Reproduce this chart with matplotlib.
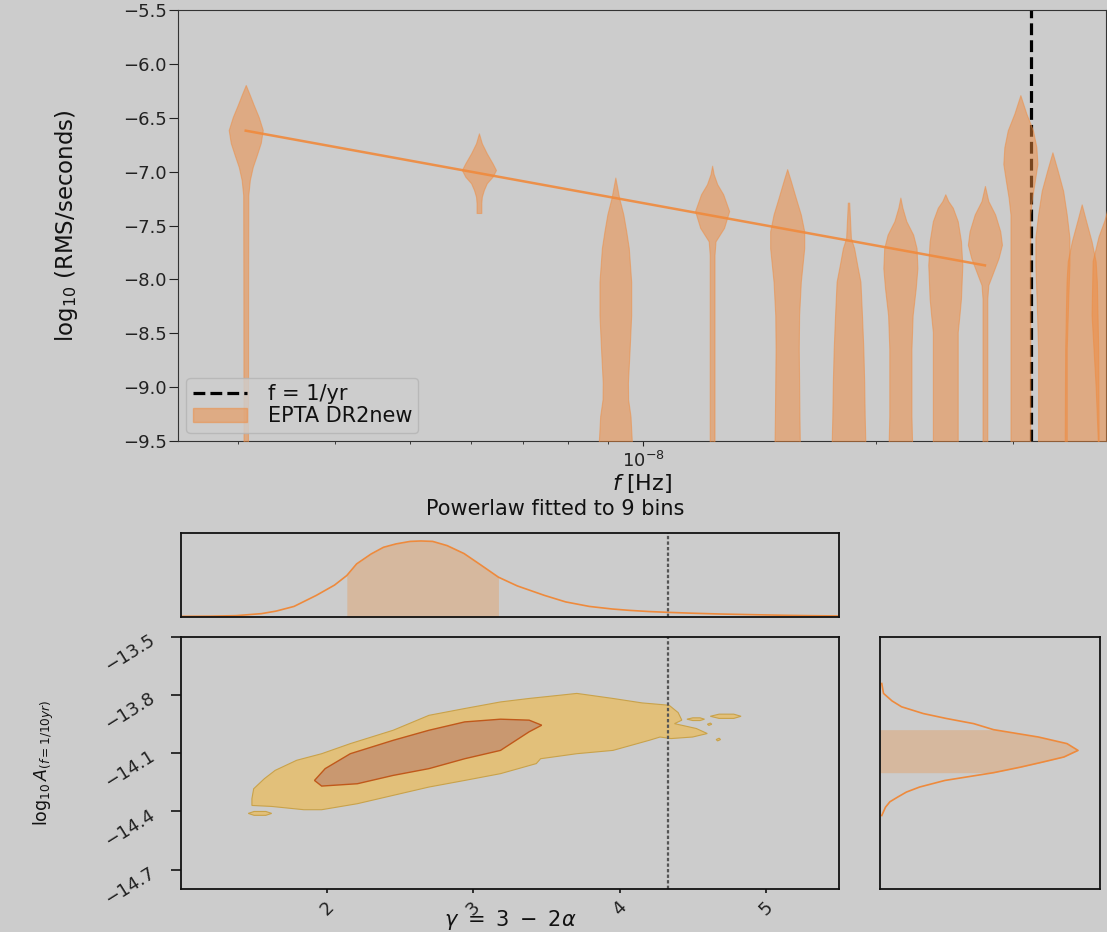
import numpy as np
import matplotlib

matplotlib.use("Agg")
import matplotlib.pyplot as plt
from matplotlib.lines import Line2D
from matplotlib.patches import Patch
from matplotlib.ticker import FixedLocator, NullFormatter, NullLocator

# --- free-spectrum violins (log10 RMS residual per frequency bin) ---
freqs = [3.07e-9, 6.14e-9, 9.21e-9, 1.228e-8, 1.535e-8, 1.842e-8, 2.149e-8,
         2.456e-8, 2.763e-8, 3.07e-8, 3.377e-8, 3.684e-8, 3.991e-8]
violin_levels = [
    [-6.196, -6.289, -6.382, -6.493, -6.614, -6.734, -6.846, -6.957, -7.078, -7.217, -8.0, -9.0, -9.6],
    [-6.645, -6.737, -6.830, -6.923, -6.985, -7.047, -7.108, -7.170, -7.233, -7.291, -7.384],
    [-7.055, -7.241, -7.398, -7.554, -7.710, -8.022, -8.333, -8.645, -8.957, -9.113, -9.269, -9.6],
    [-6.945, -7.023, -7.117, -7.210, -7.366, -7.522, -7.647, -7.772, -9.6],
    [-6.977, -7.085, -7.241, -7.398, -7.554, -7.710, -7.866, -8.022, -8.333, -8.645, -8.957, -9.269, -9.6],
    [-7.288, -7.616, -7.710, -7.866, -8.022, -8.333, -8.645, -8.957, -9.269, -9.6],
    [-7.241, -7.335, -7.460, -7.585, -7.710, -7.896, -8.084, -8.333, -8.645, -9.269, -9.6],
    [-7.210, -7.273, -7.335, -7.460, -7.647, -7.866, -8.178, -8.333, -8.489, -9.6],
    [-7.133, -7.273, -7.398, -7.554, -7.679, -7.803, -7.928, -8.052, -8.178, -9.6],
    [-6.290, -6.461, -6.617, -6.773, -6.929, -7.085, -7.241, -7.398, -9.6],
    [-6.821, -6.992, -7.179, -7.398, -7.616, -7.866, -8.178, -8.645, -9.6],
    [-7.304, -7.460, -7.647, -7.834, -8.022, -8.645, -9.6],
    [-7.300, -7.450, -7.600, -7.830, -8.330, -9.000, -9.6],
]
violin_density = [
    [0, .24, .47, .76, 1.0, .88, .65, .41, .24, .15, .14, .135, .13],
    [0, .17, .46, .80, 1.0, .80, .46, .29, .17, .14, .14],
    [0, .22, .47, .64, .79, .93, .93, .84, .74, .75, .89, 1.0],
    [0, .09, .30, .65, 1.0, .70, .20, .14, .14],
    [0, .21, .50, .80, 1.0, 1.0, .90, .80, .70, .68, .70, .72, .75],
    [.04, .14, .33, .51, .70, .79, .87, .92, .95, 1.0],
    [0, .12, .35, .75, .95, 1.0, .90, .72, .65, .65, .70],
    [0, .17, .44, .73, .92, 1.0, .92, .83, .73, .73],
    [0, .20, .60, .90, 1.0, .80, .50, .20, .14, .14],
    [0, .35, .74, .94, 1.0, .85, .69, .58, .58],
    [0, .31, .63, .84, 1.0, 1.0, .93, .84, .84],
    [0, .26, .58, .82, .89, .97, 1.0],
    [0, .24, .59, .94, 1.0, .76, .61],
]
fit_freqs = [3.07e-9, 2.763e-8]
fit_log10_rms = [-6.62, -7.87]
f_yr = 3.17e-8

# --- powerlaw posterior (gamma, log10 A) ---
gamma_grid = [1.0, 1.2, 1.376, 1.55, 1.65, 1.773, 1.925, 2.05, 2.134, 2.201, 2.30, 2.385, 2.47,
              2.568, 2.64, 2.721, 2.82, 2.936, 3.05, 3.171, 3.30, 3.486, 3.63, 3.792, 3.95,
              4.067, 4.20, 4.336, 4.50, 4.678, 4.90, 5.137, 5.30, 5.504]
gamma_pdf = [0.008, 0.010, 0.016, 0.040, 0.070, 0.126, 0.257, 0.380, 0.494, 0.632, 0.750,
             0.830, 0.870, 0.900, 0.905, 0.900, 0.850, 0.755, 0.620, 0.474, 0.370, 0.257,
             0.180, 0.126, 0.095, 0.079, 0.065, 0.055, 0.045, 0.036, 0.028, 0.020, 0.016, 0.012]
gamma_1sigma = (2.134, 3.171)
log10A_grid = [-13.740, -13.791, -13.830, -13.860, -13.895, -13.920, -13.947, -13.978, -14.016,
               -14.050, -14.085, -14.119, -14.145, -14.171, -14.200, -14.240, -14.274, -14.300,
               -14.326, -14.350, -14.378, -14.421]
log10A_pdf = [0.008, 0.016, 0.055, 0.098, 0.197, 0.300, 0.426, 0.516, 0.720, 0.850, 0.900,
              0.836, 0.740, 0.640, 0.516, 0.295, 0.180, 0.120, 0.080, 0.045, 0.025, 0.008]
log10A_1sigma = (-13.978, -14.200)
gamma_smbhb = 13 / 3

outer_gamma = [1.644, 1.791, 1.962, 2.158, 2.451, 2.696, 2.940, 3.185, 3.381, 3.596, 3.707,
               3.954, 4.153, 4.338, 4.400, 4.425, 4.375, 4.524, 4.599, 4.499, 4.351, 4.276,
               4.202, 3.954, 3.707, 3.459, 3.430, 3.185, 2.940, 2.696, 2.451, 2.206, 1.962,
               1.840, 1.619, 1.485, 1.485, 1.497, 1.570]
outer_log10A = [-14.188, -14.136, -14.102, -14.050, -13.981, -13.904, -13.869, -13.835, -13.817,
                -13.800, -13.791, -13.817, -13.840, -13.852, -13.890, -13.929, -13.947, -13.972,
                -13.998, -14.016, -14.024, -14.016, -14.033, -14.085, -14.102, -14.128, -14.153,
                -14.205, -14.240, -14.274, -14.317, -14.360, -14.391, -14.391, -14.374, -14.369,
                -14.334, -14.283, -14.231]
inner_gamma = [1.913, 1.986, 2.158, 2.451, 2.696, 2.940, 3.185, 3.381, 3.467, 3.381, 3.185,
               2.940, 2.696, 2.451, 2.206, 1.962]
inner_log10A = [-14.240, -14.179, -14.102, -14.033, -13.981, -13.938, -13.924, -13.929, -13.955,
                -13.989, -14.085, -14.128, -14.179, -14.214, -14.257, -14.269]
islands_gamma = [
    [1.46, 1.50, 1.58, 1.62, 1.58, 1.50],
    [4.62, 4.68, 4.78, 4.83, 4.78, 4.68],
    [4.46, 4.50, 4.55, 4.58, 4.55, 4.50],
    [4.60, 4.62, 4.63, 4.61],
    [4.66, 4.68, 4.69, 4.67],
]
islands_log10A = [
    [-14.410, -14.400, -14.400, -14.410, -14.420, -14.420],
    [-13.909, -13.898, -13.898, -13.909, -13.920, -13.920],
    [-13.924, -13.917, -13.917, -13.924, -13.931, -13.931],
    [-13.950, -13.944, -13.950, -13.956],
    [-14.029, -14.022, -14.029, -14.036],
]

BG = "#cccccc"
ORANGE = "#f08a3c"
plt.rcParams["font.family"] = ["DejaVu Sans"]
plt.rcParams["text.color"] = "#111111"
plt.rcParams["axes.labelcolor"] = "#111111"
plt.rcParams["xtick.color"] = "#222222"
plt.rcParams["ytick.color"] = "#222222"

W, H = 1107, 932
fig = plt.figure(figsize=(W / 100, H / 100), dpi=100, facecolor=BG)


def px_axes(left, top, right, bottom):
    return fig.add_axes([left / W, 1 - bottom / H, (right - left) / W, (bottom - top) / H])


# ---------------- free spectrum ----------------
ax = px_axes(178, 10, 1106, 441)
ax.set_facecolor(BG)
ax.set_xscale("log")
half_width = 0.022  # decades
for f, levels, dens in zip(freqs, violin_levels, violin_density):
    dens = np.asarray(dens)
    ax.fill_betweenx(levels, f * 10 ** (-half_width * dens), f * 10 ** (half_width * dens),
                     facecolor=ORANGE, alpha=0.5, edgecolor=ORANGE, linewidth=0.8, zorder=3)
ax.axvline(f_yr, color="black", linestyle="--", linewidth=2.3, zorder=2)
ax.plot(fit_freqs, fit_log10_rms, color=ORANGE, linewidth=1.8, alpha=0.9, zorder=4)
ax.set_xlim(2.51e-9, 3.96e-8)
ax.set_ylim(-9.5, -5.5)
ax.yaxis.set_major_locator(FixedLocator(np.arange(-9.5, -5.4, 0.5)))
ax.xaxis.set_minor_formatter(NullFormatter())
ax.tick_params(axis="y", labelsize=13, length=6.5, pad=1.5)
ax.tick_params(axis="x", which="major", labelsize=13)
for spine in ax.spines.values():
    spine.set_color("#333333")
ax.set_xlabel(r"$f$ [Hz]", fontsize=16)
ax.xaxis.set_label_coords(0.5, -0.072)
ax.set_ylabel(r"log$_{10}$ (RMS/seconds)", fontsize=16.5)
ax.yaxis.set_label_coords(-0.106, 0.5)
handles = [Line2D([], [], color="black", linestyle="--", linewidth=2.3),
           Patch(facecolor=ORANGE, alpha=0.5, edgecolor=ORANGE)]
leg = ax.legend(handles, ["f = 1/yr", "EPTA DR2new"], loc="lower left", fontsize=15,
                handlelength=2.6, handletextpad=1.0, labelspacing=0.1, borderpad=0.3,
                borderaxespad=0.4, fancybox=True)
leg.get_frame().set_facecolor("#cecece")
leg.get_frame().set_edgecolor("#b4b4b4")

fig.text(555 / W, 1 - 509 / H, "Powerlaw fitted to 9 bins", fontsize=15, ha="center", va="center")

# ---------------- corner plot ----------------
ax_gx = px_axes(181, 533, 839, 617)
ax_2d = px_axes(181, 637, 839, 889)
ax_ay = px_axes(880, 637, 1100, 889)
for a in (ax_gx, ax_2d, ax_ay):
    a.set_facecolor(BG)
    for spine in a.spines.values():
        spine.set_color("#111111")
        spine.set_linewidth(1.3)

CURVE = "#ee8a3c"
SHADE = "#d6b89e"
g = np.asarray(gamma_grid)
gp = np.asarray(gamma_pdf)
ax_gx.plot(g, gp, color=CURVE, linewidth=1.2)
mask = (g >= gamma_1sigma[0]) & (g <= gamma_1sigma[1])
ax_gx.fill_between(g[mask], 0, gp[mask], color=SHADE, linewidth=0)
ax_gx.axvline(gamma_smbhb, color="#555555", linestyle=(0, (1.5, 1)), linewidth=1.6)
ax_gx.set_xlim(1.0, 5.5)
ax_gx.set_ylim(0, 1.0)
ax_gx.xaxis.set_major_locator(NullLocator())
ax_gx.yaxis.set_major_locator(NullLocator())

A = np.asarray(log10A_grid)
Ap = np.asarray(log10A_pdf)
ax_ay.plot(Ap, A, color=CURVE, linewidth=1.2)
maskA = (A <= log10A_1sigma[0]) & (A >= log10A_1sigma[1])
ax_ay.fill_betweenx(A[maskA], 0, Ap[maskA], color=SHADE, linewidth=0)
ax_ay.set_xlim(0, 1.0)
ax_ay.set_ylim(-14.8, -13.5)
ax_ay.xaxis.set_major_locator(NullLocator())
ax_ay.yaxis.set_major_locator(NullLocator())

ax_2d.fill(outer_gamma, outer_log10A, facecolor="#e2c07a", edgecolor="#c9a24a", linewidth=0.8)
for gi, ai in zip(islands_gamma, islands_log10A):
    ax_2d.fill(gi, ai, facecolor="#e2c07a", edgecolor="#c9a24a", linewidth=0.8)
ax_2d.fill(inner_gamma, inner_log10A, facecolor="#c99870", edgecolor="#c0581a", linewidth=1.0)
ax_2d.axvline(gamma_smbhb, color="#555555", linestyle=(0, (1.5, 1)), linewidth=1.6)
ax_2d.set_xlim(1.0, 5.5)
ax_2d.set_ylim(-14.8, -13.5)
ax_2d.xaxis.set_major_locator(FixedLocator([2, 3, 4, 5]))
ax_2d.yaxis.set_major_locator(FixedLocator([-14.7, -14.4, -14.1, -13.8, -13.5]))
ax_2d.tick_params(axis="x", labelsize=13, labelrotation=45, length=3, width=1.3)
ax_2d.tick_params(axis="y", labelsize=13, length=7, width=1.3, pad=14)
for lab in ax_2d.get_yticklabels():
    lab.set_rotation(32)
    lab.set_horizontalalignment("right")
    lab.set_rotation_mode("anchor")
ax_2d.set_xlabel(r"$\gamma\ =\ 3\ -\ 2\alpha$", fontsize=15)
ax_2d.xaxis.set_label_coords(0.5, -0.075)
ax_2d.set_ylabel(r"$\log_{10}A_{(f=1/10yr)}$", fontsize=12.5)
ax_2d.yaxis.set_label_coords(-0.19, 0.5)

fig.savefig("out.png", dpi=100, facecolor=BG)
